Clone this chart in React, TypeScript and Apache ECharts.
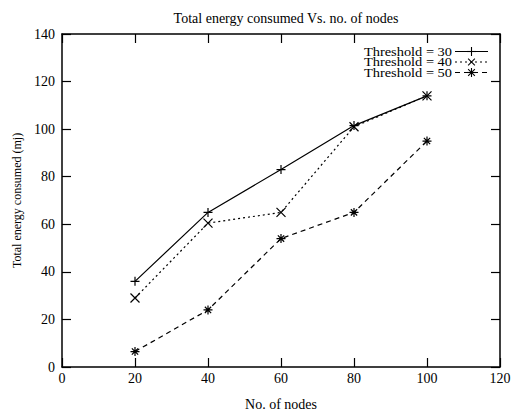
import React, { useEffect, useRef } from "react";
import * as echarts from "echarts";

const nodes = [20, 40, 60, 80, 100];
const threshold30 = [36, 65, 83, 101.5, 114];
const threshold40 = [29, 60.5, 65, 101, 114];
const threshold50 = [6.5, 24, 54, 65, 95];
const seriesNames = ["Threshold = 30", "Threshold = 40", "Threshold = 50"];

const plusPath = "path://M0 5 L10 5 M5 0 L5 10";
const crossPath = "path://M1 1 L9 9 M9 1 L1 9";
const starPath = "path://M0 5 L10 5 M5 0 L5 10 M1.5 1.5 L8.5 8.5 M8.5 1.5 L1.5 8.5";

const FONT = "Liberation Serif";

function markerLines(kind: string, cx: number, cy: number, r: number) {
  const segs: number[][] = [];
  const d = r * 0.75;
  if (kind === "plus" || kind === "star") {
    segs.push([cx - r, cy, cx + r, cy], [cx, cy - r, cx, cy + r]);
  }
  if (kind === "cross" || kind === "star") {
    segs.push([cx - d, cy - d, cx + d, cy + d], [cx + d, cy - d, cx - d, cy + d]);
  }
  return segs.map((s) => ({
    type: "line",
    silent: true,
    shape: { x1: s[0], y1: s[1], x2: s[2], y2: s[3] },
    style: { stroke: "#000", lineWidth: 1.1 },
  }));
}

export default function App() {
  const ref = useRef<HTMLDivElement>(null);
  useEffect(() => {
    if (!ref.current) return;
    const chart = echarts.init(ref.current, undefined, { renderer: "svg" });
    const mk = (name: string, data: number[], type: any, symbol: string) => ({
      name,
      type: "line",
      data: nodes.map((n, i) => [n, data[i]]),
      symbol,
      symbolSize: 9,
      showSymbol: true,
      itemStyle: { color: "transparent", borderColor: "#000", borderWidth: 1.2 },
      lineStyle: { color: "#000", width: 1.2, type },
      emphasis: { disabled: true },
    });
    const axisLine = () => ({ show: true, onZero: false, lineStyle: { color: "#000", width: 1.5 } });
    const axisTick = () => ({ show: true, inside: true, length: 9, lineStyle: { color: "#000", width: 1.2 } });

    const legendRows = [
      { name: seriesNames[0], y: 51.5, dash: null as any, kind: "plus" },
      { name: seriesNames[1], y: 62, dash: [2, 3], kind: "cross" },
      { name: seriesNames[2], y: 72.5, dash: [5, 4], kind: "star" },
    ];
    const graphic: any[] = [];
    legendRows.forEach((r) => {
      graphic.push({
        type: "text",
        x: 452,
        y: r.y,
        scaleX: 1.2,
        silent: true,
        style: {
          text: r.name,
          fontFamily: FONT,
          fontSize: 12,
          lineHeight: 10,
          fill: "#000",
          align: "right",
          verticalAlign: "middle",
        },
      });
      graphic.push({
        type: "line",
        silent: true,
        shape: { x1: 455, y1: r.y, x2: 488, y2: r.y },
        style: { stroke: "#000", lineWidth: 1.2, lineDash: r.dash || undefined },
      });
      graphic.push(...markerLines(r.kind, 471.5, r.y, 4.5));
    });

    chart.setOption({
      animation: false,
      backgroundColor: "#fff",
      title: {
        text: "Total energy consumed Vs. no. of nodes",
        left: 281,
        textAlign: "center",
        top: 6,
        textStyle: { fontFamily: FONT, fontSize: 14, fontWeight: "normal", color: "#000" },
      },
      graphic,
      grid: { left: 62, right: 13, top: 34, bottom: 48, containLabel: false, outerBoundsMode: "none" },
      xAxis: [
        {
          type: "value",
          min: 0,
          max: 120,
          interval: 20,
          name: "No. of nodes",
          nameLocation: "middle",
          nameGap: 30,
          nameTextStyle: { fontFamily: FONT, fontSize: 14, color: "#000" },
          axisLine: axisLine(),
          axisTick: axisTick(),
          splitLine: { show: false },
          axisLabel: { fontFamily: FONT, fontSize: 14, color: "#000", margin: 4 },
        },
        {
          type: "value",
          position: "top",
          min: 0,
          max: 120,
          interval: 20,
          axisLine: axisLine(),
          axisTick: axisTick(),
          splitLine: { show: false },
          axisLabel: { show: false },
        },
      ],
      yAxis: [
        {
          type: "value",
          min: 0,
          max: 140,
          interval: 20,
          name: "Total energy consumed (mj)",
          nameLocation: "middle",
          nameGap: 36,
          nameTextStyle: { fontFamily: FONT, fontSize: 12, color: "#000" },
          axisLine: axisLine(),
          axisTick: axisTick(),
          splitLine: { show: false },
          axisLabel: { fontFamily: FONT, fontSize: 14, color: "#000", margin: 7 },
        },
        {
          type: "value",
          position: "right",
          min: 0,
          max: 140,
          interval: 20,
          axisLine: axisLine(),
          axisTick: axisTick(),
          splitLine: { show: false },
          axisLabel: { show: false },
        },
      ],
      series: [
        mk(seriesNames[0], threshold30, "solid", plusPath),
        mk(seriesNames[1], threshold40, [2, 3], crossPath),
        mk(seriesNames[2], threshold50, [5, 4], starPath),
      ],
    });
    return () => chart.dispose();
  }, []);
  return <div ref={ref} style={{ width: 513, height: 415, position: "absolute", left: 0, top: 0 }} />;
}
